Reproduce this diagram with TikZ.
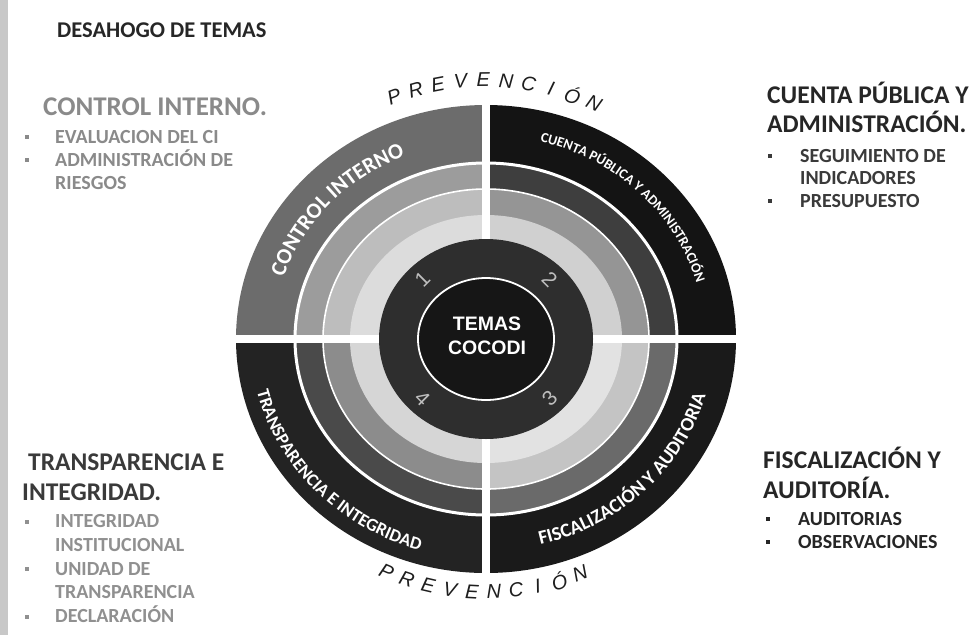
\documentclass[tikz,border=0pt]{standalone}
\usepackage{fontspec}
\setmainfont{Carlito}
\newfontfamily\arialf{Liberation Sans}
\usetikzlibrary{decorations.text,calc}
\definecolor{tlA}{HTML}{6C6C6C}
\definecolor{tlB}{HTML}{9C9C9C}
\definecolor{tlC}{HTML}{BDBDBD}
\definecolor{tlD}{HTML}{DCDCDC}
\definecolor{trA}{HTML}{141414}
\definecolor{trB}{HTML}{3E3E3E}
\definecolor{trC}{HTML}{959595}
\definecolor{trD}{HTML}{D0D0D0}
\definecolor{blA}{HTML}{232323}
\definecolor{blB}{HTML}{4A4A4A}
\definecolor{blC}{HTML}{8C8C8C}
\definecolor{blD}{HTML}{D6D6D6}
\definecolor{brA}{HTML}{1A1A1A}
\definecolor{brB}{HTML}{6A6A6A}
\definecolor{brC}{HTML}{C4C4C4}
\definecolor{brD}{HTML}{E2E2E2}
\definecolor{coreA}{HTML}{2E2E2E}
\definecolor{coreB}{HTML}{161616}
\definecolor{numc}{HTML}{BEBEBE}
\definecolor{prevc}{HTML}{1E1E1E}
\definecolor{darktxt}{HTML}{262626}
\definecolor{midtxt}{HTML}{3A3A3A}
\definecolor{graytxt}{HTML}{8A8A8A}
\definecolor{lgraytxt}{HTML}{909090}
\definecolor{strip}{HTML}{C8C8C8}
\tikzset{
  side/.style={anchor=base west, inner sep=0pt},
  head/.style={side, font=\fontsize{25.5}{28}\selectfont\bfseries},
  item/.style={side, font=\fontsize{20}{22}\selectfont\bfseries},
  bul/.style={rectangle, inner sep=0pt, minimum size=4.5pt},
  prev/.style={font=\arialf\itshape\fontsize{20}{22}\selectfont, text=prevc, inner sep=0pt},
  num/.style={font=\arialf\fontsize{21}{22}\selectfont, text=numc, inner sep=0pt},
  core/.style={font=\arialf\bfseries\fontsize{19.5}{24}\selectfont, text=white, align=center, inner sep=0pt},
  gapline/.style={white, line width=8},
  ringline/.style={white, line width=3},
  thinring/.style={white, line width=1.6},
}
\begin{document}
\begin{tikzpicture}[x=1pt,y=1pt]
\useasboundingbox (0,0) rectangle (976,-635);
\fill[white] (0,0) rectangle (976,-635);
\fill[strip] (0,0) rectangle (8,-635);
\coordinate (C) at (486,-339);

% quadrants
\begin{scope}
\clip (C) rectangle ++(-270,260);
\fill[tlA] (C) ellipse[x radius=250,y radius=234];
\fill[tlB] (C) ellipse[x radius=191,y radius=176];
\fill[tlC] (C) ellipse[x radius=163,y radius=150];
\fill[tlD] (C) ellipse[x radius=136,y radius=124];
\end{scope}
\begin{scope}
\clip (C) rectangle ++(270,260);
\fill[trA] (C) ellipse[x radius=250,y radius=234];
\fill[trB] (C) ellipse[x radius=191,y radius=176];
\fill[trC] (C) ellipse[x radius=163,y radius=150];
\fill[trD] (C) ellipse[x radius=136,y radius=124];
\end{scope}
\begin{scope}
\clip (C) rectangle ++(-270,-260);
\fill[blA] (C) ellipse[x radius=250,y radius=234];
\fill[blB] (C) ellipse[x radius=191,y radius=176];
\fill[blC] (C) ellipse[x radius=163,y radius=150];
\fill[blD] (C) ellipse[x radius=136,y radius=124];
\end{scope}
\begin{scope}
\clip (C) rectangle ++(270,-260);
\fill[brA] (C) ellipse[x radius=250,y radius=234];
\fill[brB] (C) ellipse[x radius=191,y radius=176];
\fill[brC] (C) ellipse[x radius=163,y radius=150];
\fill[brD] (C) ellipse[x radius=136,y radius=124];
\end{scope}
\draw[ringline] (C) ellipse[x radius=191,y radius=176];
\draw[thinring] (C) ellipse[x radius=163,y radius=150];
\draw[gapline] (C) ++(-256,0) -- ++(512,0);
\draw[gapline] (C) ++(0,240) -- ++(0,-480);

% core
\fill[coreA] (C) ellipse[x radius=107,y radius=100];
\fill[coreB] (C) ellipse[x radius=68,y radius=61];
\draw[white, line width=1.8] (C) ellipse[x radius=68,y radius=61];
\node[core] (core) at ($(C)+(1,3)$) {TEMAS\\COCODI};
\node[num, rotate=45]  (n1) at ($(C)+(135:90 and 84)$) {1};
\node[num, rotate=-45] (n2) at ($(C)+(45:90 and 84)$) {2};
\node[num, rotate=45]  (n3) at ($(C)+(315:90 and 84)$) {3};
\node[num, rotate=-45] (n4) at ($(C)+(225:90 and 84)$) {4};

% ring texts
\path[decorate, decoration={text along path, text align=center,
  text={|\bfseries\fontsize{22}{24}\selectfont\color{white}|CONTROL INTERNO}}]
  (C) ++(190:213 and 198) arc[start angle=190, end angle=86, x radius=213, y radius=198];
\path[decorate, decoration={text along path, text align=center,
  text={|\bfseries\fontsize{14}{16}\selectfont\color{white}|CUENTA PÚBLICA Y ADMINISTRACIÓN}}]
  (C) ++(100:219 and 204) arc[start angle=100, end angle=-10, x radius=219, y radius=204];
\path[decorate, decoration={text along path, text align=center,
  text={|\bfseries\fontsize{18}{20}\selectfont\color{white}|TRANSPARENCIA E INTEGRIDAD}}]
  (C) ++(170:236 and 220) arc[start angle=170, end angle=276, x radius=236, y radius=220];
\path[decorate, decoration={text along path, text align=center,
  text={|\bfseries\fontsize{19.5}{21}\selectfont\color{white}|FISCALIZACIÓN Y AUDITORIA}}]
  (C) ++(260:228 and 212) arc[start angle=260, end angle=370, x radius=228, y radius=212];

% PREVENCION
\foreach \l [count=\i from 0] in {P,R,E,V,E,N,C,I,Ó,N} {
  \pgfmathsetmacro\a{110.8-5.05*\i}
  \node[prev, rotate=\a-90] (pt\i) at ($(C)+(\a:259)$) {\l};
}
\foreach \l [count=\i from 0] in {P,R,E,V,E,N,C,I,Ó,N} {
  \pgfmathsetmacro\a{246.8+5*\i}
  \node[prev, rotate=\a+90] (pb\i) at ($(C)+(\a:253)$) {\l};
}

% side texts
\node[side, font=\fontsize{22.5}{24}\selectfont\bfseries, text=darktxt] (title) at (57,-37) {DESAHOGO DE TEMAS};

\node[side, font=\fontsize{27}{29}\selectfont\bfseries, text=graytxt] (ci) at (43,-115) {CONTROL INTERNO.};
\node[item, text=graytxt] (ci1) at (55,-143) {EVALUACION DEL CI};
\node[item, text=graytxt] (ci2) at (55,-166) {ADMINISTRACIÓN DE};
\node[item, text=graytxt] (ci3) at (55,-189) {RIESGOS};
\node[bul, fill=graytxt] (cib1) at (27,-137) {};
\node[bul, fill=graytxt] (cib2) at (27,-160) {};

\node[head, text=darktxt] (cp) at (767,-103) {CUENTA PÚBLICA Y};
\node[head, text=darktxt] (cp2) at (767,-132) {ADMINISTRACIÓN.};
\node[item, text=midtxt] (cp3) at (800,-162) {SEGUIMIENTO DE};
\node[item, text=midtxt] (cp4) at (800,-184) {INDICADORES};
\node[item, text=midtxt] (cp5) at (800,-207) {PRESUPUESTO};
\node[bul, fill=midtxt] (cpb1) at (770,-156) {};
\node[bul, fill=midtxt] (cpb2) at (770,-201) {};

\node[head, text=midtxt] (ti) at (28,-470) {TRANSPARENCIA E};
\node[head, text=midtxt] (ti2) at (22,-500) {INTEGRIDAD.};
\node[item, text=lgraytxt] (ti3) at (55,-527) {INTEGRIDAD};
\node[item, text=lgraytxt] (ti4) at (55,-551) {INSTITUCIONAL};
\node[item, text=lgraytxt] (ti5) at (55,-575) {UNIDAD DE};
\node[item, text=lgraytxt] (ti6) at (55,-598) {TRANSPARENCIA};
\node[item, text=lgraytxt] (ti7) at (55,-622) {DECLARACIÓN};
\node[bul, fill=lgraytxt] (tib1) at (27,-522) {};
\node[bul, fill=lgraytxt] (tib2) at (27,-569) {};
\node[bul, fill=lgraytxt] (tib3) at (27,-617) {};

\node[head, text=darktxt] (fa) at (763,-468) {FISCALIZACIÓN Y};
\node[head, text=darktxt] (fa2) at (763,-498) {AUDITORÍA.};
\node[item, text=darktxt] (fa3) at (798,-525) {AUDITORIAS};
\node[item, text=darktxt] (fa4) at (798,-548) {OBSERVACIONES};
\node[bul, fill=darktxt] (fab1) at (768,-519) {};
\node[bul, fill=darktxt] (fab2) at (768,-542) {};
\end{tikzpicture}
\end{document}
